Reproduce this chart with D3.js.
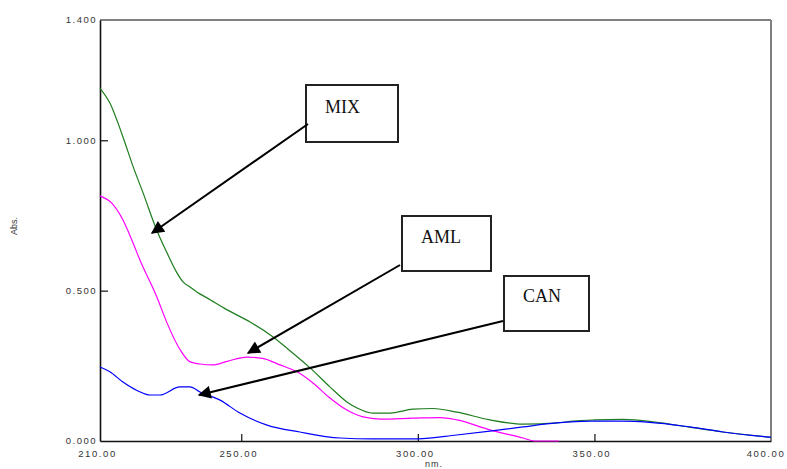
<!DOCTYPE html>
<html>
<head>
<meta charset="utf-8">
<script src="https://cdn.jsdelivr.net/npm/d3@7"></script>
<style>
  html, body { margin: 0; padding: 0; background: #fff; }
  svg { display: block; }
</style>
</head>
<body>
<svg id="chart" width="787" height="469"></svg>
<script>
// ---- data ----
const mixNm  = [210, 212.8, 216.5, 219.3, 222.2, 226.1, 229.0, 231.8, 233.5, 235.5, 237.5, 240.3, 246.0, 252.5, 259.0, 262.9, 269.5, 275.1, 279.9, 282.8, 287.3, 292.1, 298.6, 304.3, 311.1, 320.4, 329.8, 339.4, 343.9, 350, 358.1, 367.7, 376.4, 386.4, 400];
const mixAbs = [1.173, 1.124, 1.011, 0.915, 0.825, 0.70, 0.625, 0.559, 0.529, 0.512, 0.495, 0.476, 0.436, 0.396, 0.346, 0.309, 0.243, 0.18, 0.13, 0.11, 0.093, 0.093, 0.106, 0.108, 0.096, 0.07, 0.056, 0.06, 0.066, 0.070, 0.072, 0.062, 0.047, 0.03, 0.012];

const amlNm  = [210, 213.4, 216.5, 219.3, 221.3, 226.1, 229.0, 232.6, 235.5, 238.3, 242, 246, 251.6, 256, 261.0, 265.8, 270.3, 275.1, 279.9, 284.5, 289.3, 298.6, 306.3, 311.1, 320.4, 329.8, 333, 340];
const amlAbs = [0.815, 0.79, 0.735, 0.66, 0.602, 0.479, 0.392, 0.305, 0.263, 0.256, 0.253, 0.265, 0.279, 0.275, 0.253, 0.23, 0.193, 0.143, 0.103, 0.08, 0.073, 0.076, 0.078, 0.07, 0.037, 0.01, 0.0, 0.0];

const canNm  = [210, 212.8, 216.5, 220.5, 224.2, 227, 232.6, 235.5, 238.3, 244, 249.6, 257.3, 266.6, 278, 287, 300, 311, 320.4, 329.8, 339.4, 348.7, 358, 364.9, 377, 386.4, 400];
const canAbs = [0.246, 0.23, 0.196, 0.168, 0.153, 0.153, 0.18, 0.18, 0.163, 0.136, 0.093, 0.053, 0.03, 0.01, 0.007, 0.007, 0.02, 0.033, 0.047, 0.06, 0.066, 0.066, 0.063, 0.047, 0.03, 0.012];

const xTicks = [210, 250, 300, 350, 400];
const xTickLabels = ["210.00", "250.00", "300.00", "350.00", "400.00"];
const yTicks = [0, 0.5, 1.0, 1.4];
const yTickLabels = ["0.000", "0.500", "1.000", "1.400"];

const labels = ["MIX", "AML", "CAN"];

// ---- layout ----
const svg = d3.select("#chart");
const L = 100, R = 771, T = 20, B = 441;
const x = d3.scaleLinear().domain([210, 400]).range([L, R]);
const y = d3.scaleLinear().domain([0, 1.4]).range([B, T]);

svg.append("rect").attr("width", 787).attr("height", 469).attr("fill", "#fff");

// frame: top & right gray
svg.append("line").attr("x1", L).attr("x2", R).attr("y1", T).attr("y2", T)
  .attr("stroke", "#808080").attr("stroke-width", 2);
svg.append("line").attr("x1", R).attr("x2", R).attr("y1", T).attr("y2", B)
  .attr("stroke", "#808080").attr("stroke-width", 2);

// axes
const xAxis = d3.axisBottom(x).tickValues(xTicks).tickSizeInner(-7).tickSizeOuter(0).tickFormat("");
const yAxis = d3.axisLeft(y).tickValues([0.5, 1.0]).tickSizeInner(-8).tickSizeOuter(0).tickFormat("");
const gx = svg.append("g").attr("transform", `translate(0,${B})`).call(xAxis);
const gy = svg.append("g").attr("transform", `translate(${L},0)`).call(yAxis);
[gx, gy].forEach(g => {
  g.select(".domain").attr("stroke", "#111").attr("stroke-width", 1.6);
  g.selectAll(".tick line").attr("stroke", "#111").attr("stroke-width", 1.2);
});
gx.selectAll(".tick").filter(d => d === 210 || d === 400).remove();

// tick labels
svg.append("g").selectAll("text").data(xTicks).join("text")
  .attr("x", d => Math.min(x(d) - 2.5, 766)).attr("y", 457)
  .attr("text-anchor", "middle")
  .attr("font-family", "Liberation Sans, Arial, sans-serif")
  .attr("font-size", 9.5).attr("letter-spacing", 1.6)
  .attr("fill", "#333")
  .text((d, i) => xTickLabels[i]);

svg.append("g").selectAll("text").data(yTicks).join("text")
  .attr("x", 97).attr("y", d => y(d) + 3.3)
  .attr("text-anchor", "end")
  .attr("font-family", "Liberation Sans, Arial, sans-serif")
  .attr("font-size", 9.5).attr("letter-spacing", 1.5)
  .attr("fill", "#333")
  .text((d, i) => yTickLabels[i]);

svg.append("text").attr("x", 434).attr("y", 467)
  .attr("text-anchor", "middle")
  .attr("font-family", "Liberation Sans, Arial, sans-serif")
  .attr("font-size", 9).attr("letter-spacing", 1)
  .attr("fill", "#333").text("nm.");

svg.append("text")
  .attr("transform", "translate(17,226) rotate(-90)")
  .attr("text-anchor", "middle")
  .attr("font-family", "Liberation Sans, Arial, sans-serif")
  .attr("font-size", 9).attr("fill", "#333").text("Abs.");

// curves
const line = d3.line().x(d => x(d[0])).y(d => y(d[1])).curve(d3.curveMonotoneX);
const series = [
  { nm: mixNm, abs: mixAbs, color: "#1e7d1e" },
  { nm: amlNm, abs: amlAbs, color: "#ff00ff" },
  { nm: canNm, abs: canAbs, color: "#0000ff" }
];
series.forEach(s => {
  svg.append("path")
    .datum(s.nm.map((n, i) => [n, s.abs[i]]))
    .attr("d", line)
    .attr("fill", "none")
    .attr("stroke", s.color)
    .attr("stroke-width", 1.2);
});

// annotations
const defs = svg.append("defs");
defs.append("marker").attr("id", "ah")
  .attr("viewBox", "0 0 10 10").attr("refX", 9).attr("refY", 5)
  .attr("markerWidth", 8).attr("markerHeight", 6.5)
  .attr("markerUnits", "strokeWidth")
  .attr("orient", "auto")
  .append("path").attr("d", "M0,0 L10,5 L0,10 Z").attr("fill", "#000");

const boxes = [
  { x0: 306, y0: 85, w: 92, h: 57, tx: 325, ty: 113, ax1: 308, ay1: 124, ax2: 152, ay2: 233 },
  { x0: 402, y0: 216, w: 89, h: 55, tx: 421, ty: 243, ax1: 400, ay1: 265, ax2: 248, ay2: 353 },
  { x0: 504, y0: 276, w: 85, h: 55, tx: 523, ty: 302, ax1: 503, ay1: 321, ax2: 199, ay2: 395 }
];
boxes.forEach((b, i) => {
  svg.append("rect").attr("x", b.x0).attr("y", b.y0).attr("width", b.w).attr("height", b.h)
    .attr("fill", "#fff").attr("stroke", "#222").attr("stroke-width", 2);
  svg.append("text").attr("x", b.tx).attr("y", b.ty)
    .attr("font-family", "Liberation Serif, Times New Roman, serif")
    .attr("font-size", 18).attr("fill", "#111").text(labels[i]);
  svg.append("line").attr("x1", b.ax1).attr("y1", b.ay1).attr("x2", b.ax2).attr("y2", b.ay2)
    .attr("stroke", "#000").attr("stroke-width", 2).attr("marker-end", "url(#ah)");
});
</script>
</body>
</html>
